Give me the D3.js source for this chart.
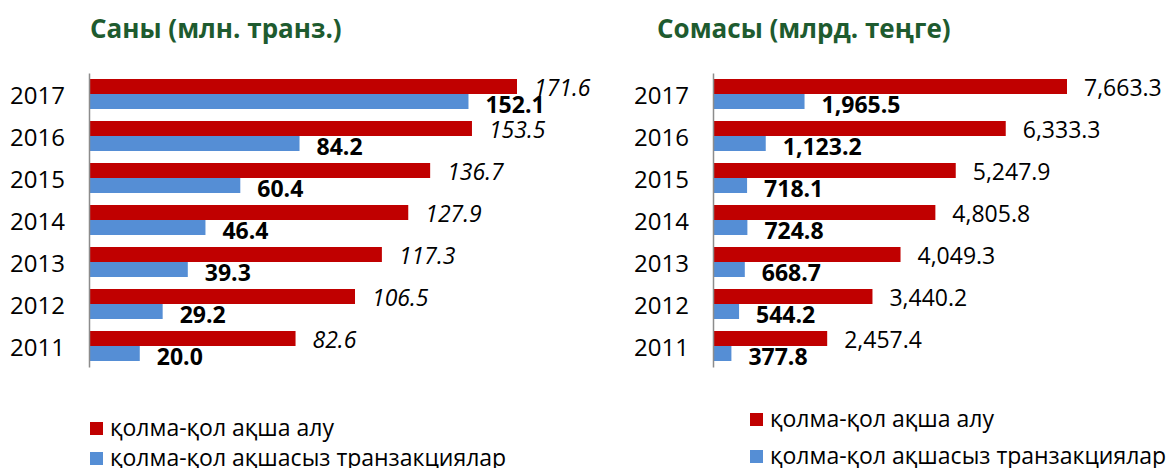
<!DOCTYPE html>
<html>
<head>
<meta charset="utf-8">
<script src="https://cdn.jsdelivr.net/npm/d3@7"></script>
<style>
  body { margin: 0; background: #fff; }
  svg { display: block; font-family: "Open Sans", "Noto Sans", sans-serif; }
</style>
</head>
<body>
<div class="chart"></div>
<script>
var years = ["2011", "2012", "2013", "2014", "2015", "2016", "2017"];

// count, mln transactions
var countCash = [82.6, 106.5, 117.3, 127.9, 136.7, 153.5, 171.6];
var countCashless = [20.0, 29.2, 39.3, 46.4, 60.4, 84.2, 152.1];

// volume, bln tenge
var sumCash = [2457.4, 3440.2, 4049.3, 4805.8, 5247.9, 6333.3, 7663.3];
var sumCashless = [377.8, 544.2, 668.7, 724.8, 718.1, 1123.2, 1965.5];

var seriesNames = ["қолма-қол ақша алу", "қолма-қол ақшасыз транзакциялар"];
var colors = ["#C00000", "#558ED5"];

var svgWidth = 1174;
var svgHeight = 468;

var svg = d3.select(".chart")
  .append("svg")
  .attr("width", svgWidth)
  .attr("height", svgHeight);

function drawPanel(opts) {
  var g = svg.append("g");

  // title
  g.append("text")
    .attr("x", opts.titleX)
    .attr("y", 38)
    .attr("font-size", "26px")
    .attr("font-weight", "bold")
    .attr("fill", "#1E5B2F")
    .text(opts.title);

  var y = d3.scaleBand()
    .domain(years.slice().reverse())
    .range([73, 367])
    .paddingInner(0.2857)
    .paddingOuter(0.1429);

  var sub = d3.scaleBand()
    .domain([0, 1])
    .range([0, y.bandwidth()]);

  var x = d3.scaleLinear()
    .domain([0, opts.maxVal])
    .range([opts.x0, opts.x1]);

  var rows = years.map((yr, i) => ({ year: yr, a: opts.cash[i], b: opts.cashless[i] }));

  // bars + value labels
  [["a", 0], ["b", 1]].forEach(([key, s]) => {
    g.selectAll(".bar" + key)
      .data(rows)
      .enter()
      .append("rect")
      .attr("x", x(0))
      .attr("y", d => y(d.year) + sub(s))
      .attr("width", d => x(d[key]) - x(0))
      .attr("height", sub.bandwidth())
      .attr("fill", colors[s]);

    g.selectAll(".label" + key)
      .data(rows)
      .enter()
      .append("text")
      .attr("x", d => x(d[key]) + 17)
      .attr("y", d => y(d.year) + sub(s) + sub.bandwidth() / 2 + (s === 0 ? 1 : 3))
      .attr("dy", "0.35em")
      .attr("font-size", "23px")
      .attr("font-style", s === 0 ? opts.cashStyle : "normal")
      .attr("font-weight", s === 1 ? "bold" : "normal")
      .attr("fill", "#000")
      .text(d => d3.format(opts.fmt)(d[key]));
  });

  // axis
  var axis = d3.axisLeft(y).tickSize(0).tickPadding(24);
  var axisG = g.append("g")
    .attr("transform", `translate(${x(0) - 1}, 0)`)
    .call(axis);
  axisG.select(".domain").attr("stroke", "#8C8C8C").attr("stroke-width", 1.5);
  axisG.selectAll("text")
    .attr("font-size", "24px")
    .attr("font-family", "\"Open Sans\", \"Noto Sans\", sans-serif")
    .attr("fill", "#000")
    .attr("dy", "0.4em");

  // legend
  var leg = g.selectAll(".legend")
    .data(seriesNames)
    .enter()
    .append("g")
    .attr("transform", (d, i) => `translate(${opts.legX}, ${opts.legY[i]})`);
  leg.append("rect")
    .attr("x", 0)
    .attr("y", -13)
    .attr("width", 13)
    .attr("height", 13)
    .attr("fill", (d, i) => colors[i]);
  leg.append("text")
    .attr("x", 20)
    .attr("y", 1)
    .attr("font-size", "23px")
    .attr("fill", "#000")
    .text(d => d);
}

drawPanel({
  title: "Саны (млн. транз.)",
  titleX: 90,
  cash: countCash,
  cashless: countCashless,
  maxVal: 171.6,
  x0: 90,
  x1: 517,
  fmt: ".1f",
  cashStyle: "italic",
  legX: 90,
  legY: [435, 465]
});

drawPanel({
  title: "Сомасы (млрд. теңге)",
  titleX: 657,
  cash: sumCash,
  cashless: sumCashless,
  maxVal: 7663.3,
  x0: 714,
  x1: 1067,
  fmt: ",.1f",
  cashStyle: "normal",
  legX: 750,
  legY: [426, 463]
});
</script>
</body>
</html>
